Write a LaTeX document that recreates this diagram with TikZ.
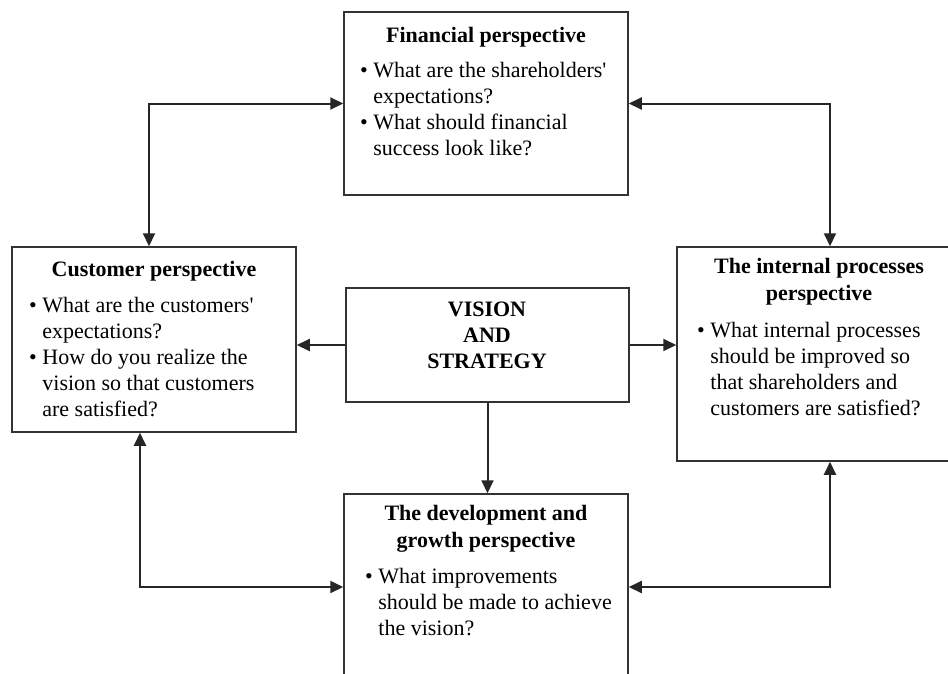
\documentclass[tikz,border=0pt]{standalone}
\usepackage{fontspec}
\setmainfont{Liberation Serif}
\usetikzlibrary{arrows.meta}
\tikzstyle{box}=[draw=black!80,line width=1.5pt,inner sep=0pt,minimum width=284pt]
\tikzstyle{title}=[inner sep=0pt,align=center,font=\fontsize{22}{27}\selectfont\bfseries]
\tikzstyle{body}=[inner sep=0pt,align=left,anchor=north west,font=\fontsize{22}{26}\selectfont]
\tikzstyle{link}=[<->,line width=2pt,black!85]
\newcommand{\bul}{\textbullet\ }
\newcommand{\ind}{\phantom{\textbullet\ }}
\newcommand{\apos}{\textquotesingle}

\begin{document}
\begin{tikzpicture}[x=1pt,y=-1pt,>={Triangle[length=13pt,width=12pt]}]
\clip (0,0) rectangle (948,673);
\node[box,minimum height=183pt] at (486, 103.5) (fin) {};
\node[box,minimum height=185pt] at (154, 339.5) (cust) {};
\node[box,minimum width=283pt,minimum height=114pt] at (487.5, 345) (vis) {};
\node[box,minimum height=214pt] at (819, 354) (proc) {};
\node[box,minimum height=186pt] at (486, 587) (dev) {};
\node[title,anchor=north] at (486, 27) (fint) {Financial perspective};
\node[body] at (360, 62) (finb) {\bul What are the shareholders\apos\\\ind expectations?\\\bul What should financial\\\ind success look like?};
\node[title,anchor=north] at (154, 261) (custt) {Customer perspective};
\node[body] at (29, 297) (custb) {\bul What are the customers\apos\\\ind expectations?\\\bul How do you realize the\\\ind vision so that customers\\\ind are satisfied?};
\node[title,anchor=north,font=\fontsize{22}{26}\selectfont\bfseries] at (487, 302) (vist) {VISION\\AND\\STRATEGY};
\node[title,anchor=north] at (819, 258) (proct) {The internal processes\\perspective};
\node[body] at (697, 322) (procb) {\bul What internal processes\\\ind should be improved so\\\ind that shareholders and\\\ind customers are satisfied?};
\node[title,anchor=north] at (486, 505) (devt) {The development and\\growth perspective};
\node[body] at (365, 568) (devb) {\bul What improvements\\\ind should be made to achieve\\\ind the vision?};
\draw[link] ([xshift=-5pt]cust.north) |- (fin.west);
\draw[link] (fin.east) -| ([xshift=11pt]proc.north);
\draw[link] ([xshift=-14pt]cust.south) |- (dev.west);
\draw[link] (dev.east) -| ([xshift=11pt]proc.south);
\draw[->,line width=2pt,black!85] (vis.west) -- (vis.west -| cust.east);
\draw[->,line width=2pt,black!85] (vis.east) -- (vis.east -| proc.west);
\draw[->,line width=2pt,black!85] (vis.south) -- (vis.south |- dev.north);
\end{tikzpicture}
\end{document}
